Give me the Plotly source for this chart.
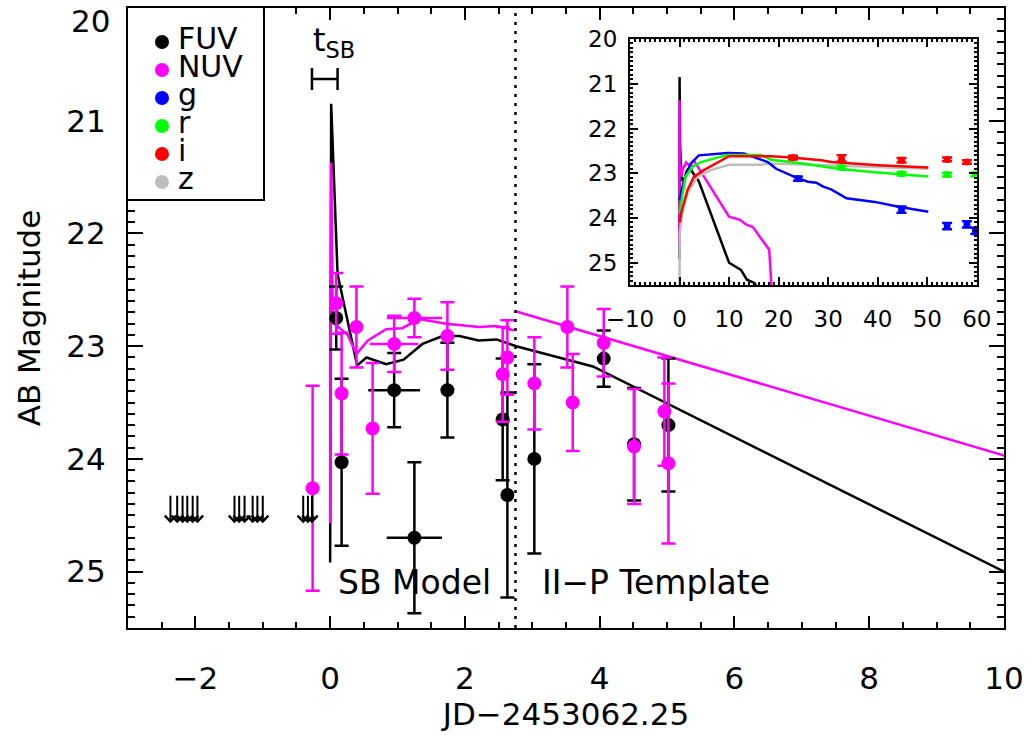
import plotly.graph_objects as go

FONT = "DejaVu Sans"
MAGENTA = "#FF00FF"

# ---------------- main panel data ----------------
fuv_x = [0.09, 0.17, 0.95, 1.25, 1.74, 2.56, 2.63, 3.03, 4.06, 4.51, 5.02]
fuv_y = [22.75, 24.03, 23.39, 24.70, 23.39, 23.65, 24.32, 24.00, 23.11, 23.87, 23.70]
fuv_err = [0.28, 0.74, 0.33, 0.67, 0.42, 0.54, 0.91, 0.84, 0.25, 0.50, 0.59]
fuv_xerr = [0, 0, 0.385, 0.41, 0, 0, 0, 0, 0, 0, 0]

nuv_x = [-0.26, 0.09, 0.17, 0.39, 0.63, 0.95, 1.25, 1.74, 2.56, 2.63, 3.03, 3.52, 3.60, 4.06, 4.51, 4.96, 5.02]
nuv_y = [24.26, 22.62, 23.42, 22.83, 23.73, 22.98, 22.75, 22.91, 23.25, 23.10, 23.33, 22.83, 23.50, 22.97, 23.89, 23.58, 24.04]
nuv_err = [0.91, 0.27, 0.54, 0.36, 0.58, 0.25, 0.17, 0.30, 0.42, 0.33, 0.41, 0.36, 0.43, 0.30, 0.51, 0.48, 0.71]
nuv_xerr = [0, 0, 0, 0, 0, 0.36, 0.41, 0, 0, 0, 0, 0, 0, 0, 0, 0, 0]

# FUV upper limits (pre-explosion)
ul_x = [-2.37, -2.27, -2.19, -2.12, -2.04, -1.97,
        -1.42, -1.35, -1.27, -1.15, -1.08, -1.00,
        -0.40, -0.33, -0.27]
ul_mag = 24.57

# models: shock-breakout model + II-P template
fuv_model_x = [0.0, 0.015, 0.11, 0.40, 0.54, 0.83, 1.09, 1.37, 1.67, 1.92, 2.20, 2.47, 2.76, 3.90,
               10.0, 12.4, 13.6, 15.1, 16.0]
fuv_model_y = [24.92, 20.85, 22.36, 23.17, 23.10, 23.16, 23.12, 22.98, 22.91, 22.91, 22.95, 22.94, 23.00, 23.18,
               25.00, 25.16, 25.38, 25.45, 25.60]
nuv_sb_x = [0.0, 0.015, 0.04, 0.26, 0.39, 0.56, 0.83, 1.07, 1.32, 1.72, 2.21, 2.46, 2.73]
nuv_sb_y = [24.57, 21.37, 22.79, 22.90, 23.07, 22.95, 22.85, 22.84, 22.76, 22.80, 22.83, 22.82, 22.86]
nuv_tmpl_x = [2.75, 10.0, 12.2, 13.5, 14.8, 18.1, 18.6]
nuv_tmpl_y = [22.69, 23.97, 24.04, 24.15, 24.20, 24.71, 25.60]

t_split = 2.75
tsb_x, tsb_y, tsb_err = -0.08, 20.63, 0.19

main_yticks = [20, 21, 22, 23, 24, 25]
main_xticks = [-2, 0, 2, 4, 6, 8, 10]
inset_xticks = [-10, 0, 10, 20, 30, 40, 50, 60]

# ---------------- inset data (optical) ----------------
g_x = [0, 0.9, 2.2, 3.9, 9.7, 13.0, 17.8, 19.5, 23.2, 25.9, 27.6, 29.0, 30.6, 33.7, 39.4, 44.2, 50.2]
g_y = [23.6, 23.16, 22.79, 22.60, 22.55, 22.56, 22.75, 22.90, 23.08, 23.19, 23.21, 23.30, 23.36, 23.56, 23.64, 23.75, 23.86]
r_x = [0, 1.2, 2.6, 4.3, 9.7, 16.4, 18.5, 25.2, 32.0, 38.7, 50.2]
r_y = [23.9, 23.08, 22.86, 22.75, 22.59, 22.59, 22.70, 22.79, 22.90, 22.97, 23.07]
i_x = [0, 0.5, 1.6, 2.9, 4.9, 10.0, 16.4, 18.5, 22.5, 28.6, 30.6, 35.4, 40.1, 50.2]
i_y = [24.1, 23.82, 23.38, 23.08, 22.93, 22.62, 22.62, 22.62, 22.65, 22.71, 22.75, 22.79, 22.82, 22.87]
z_x = [0, 0.05, 0.5, 1.6, 3.6, 6.3, 10.0, 16.4, 18.5, 50.2]
z_y = [25.6, 24.34, 23.90, 23.45, 23.08, 22.93, 22.81, 22.81, 22.78, 22.90]

gpt_x = [23.9, 44.8, 54.0, 58.0, 59.7]
gpt_y = [23.12, 23.81, 24.18, 24.14, 24.29]
gpt_e = [0.05, 0.07, 0.07, 0.07, 0.07]
rpt_x = [32.7, 44.8, 54.0, 59.7]
rpt_y = [22.87, 23.01, 23.03, 23.03]
rpt_e = [0.04, 0.04, 0.04, 0.04]
ipt_x = [22.9, 32.7, 44.8, 54.0, 58.0]
ipt_y = [22.65, 22.67, 22.71, 22.69, 22.75]
ipt_e = [0.04, 0.07, 0.05, 0.04, 0.04]

legend_labels = ["FUV", "NUV", "g", "r", "i", "z"]
legend_colors = ["black", MAGENTA, "blue", "#00FF00", "red", "#BEBEBE"]

fig = go.Figure()

# ---------- main panel ----------
fig.add_trace(go.Scatter(x=fuv_model_x, y=fuv_model_y, mode="lines",
                         line=dict(color="black", width=2.5), showlegend=False))
fig.add_trace(go.Scatter(x=nuv_sb_x, y=nuv_sb_y, mode="lines",
                         line=dict(color=MAGENTA, width=2.5), showlegend=False))
fig.add_trace(go.Scatter(x=nuv_tmpl_x, y=nuv_tmpl_y, mode="lines",
                         line=dict(color=MAGENTA, width=2.5), showlegend=False))

fig.add_trace(go.Scatter(
    x=fuv_x, y=fuv_y, mode="markers",
    marker=dict(color="black", size=14),
    error_y=dict(type="data", array=fuv_err, color="black", thickness=2.5, width=7),
    error_x=dict(type="data", array=fuv_xerr, color="black", thickness=2.5, width=0),
    showlegend=False))
fig.add_trace(go.Scatter(
    x=nuv_x, y=nuv_y, mode="markers",
    marker=dict(color=MAGENTA, size=14),
    error_y=dict(type="data", array=nuv_err, color=MAGENTA, thickness=2.5, width=7),
    error_x=dict(type="data", array=nuv_xerr, color=MAGENTA, thickness=2.5, width=0),
    showlegend=False))

# t_SB bar
fig.add_trace(go.Scatter(
    x=[tsb_x], y=[tsb_y], mode="markers", marker=dict(size=1, opacity=0),
    error_x=dict(type="data", array=[tsb_err], color="black", thickness=2.5, width=11),
    showlegend=False))

fig.add_vline(x=t_split, line=dict(color="black", width=2.5, dash="3px,6px"))

for ux in ul_x:
    fig.add_annotation(x=ux, y=ul_mag, xref="x", yref="y", text="", showarrow=True,
                       ax=0, ay=-29, arrowhead=4, arrowsize=1.1, arrowwidth=2,
                       arrowcolor="black")

fig.add_annotation(x=0.05, y=20.3, xref="x", yref="y", text="t<sub>SB</sub>",
                   showarrow=False, font=dict(family=FONT, size=32, color="black"))
fig.add_annotation(x=1.25, y=25.1, xref="x", yref="y", text="SB Model",
                   showarrow=False, font=dict(family=FONT, size=33, color="black"))
fig.add_annotation(x=4.84, y=25.1, xref="x", yref="y", text="II\u2212P Template",
                   showarrow=False, font=dict(family=FONT, size=33, color="black"))
# top y label drawn just below its tick (kept inside the figure, as in the original)
fig.add_annotation(x=0, y=main_yticks[0], xref="paper", yref="y", text=str(main_yticks[0]),
                   xanchor="right", yanchor="middle", xshift=-16, yshift=-13,
                   showarrow=False, font=dict(family=FONT, size=31, color="black"))

# ---------- inset ----------
for xs, ys, col in [(fuv_model_x, fuv_model_y, "black"),
                    (nuv_sb_x, nuv_sb_y, MAGENTA),
                    (nuv_tmpl_x, nuv_tmpl_y, MAGENTA),
                    (z_x, z_y, "#BEBEBE"),
                    (g_x, g_y, "blue"),
                    (r_x, r_y, "#00FF00"),
                    (i_x, i_y, "red")]:
    fig.add_trace(go.Scatter(x=xs, y=ys, mode="lines", line=dict(color=col, width=2.5),
                             xaxis="x2", yaxis="y2", showlegend=False))
for xs, ys, es, col in [(gpt_x, gpt_y, gpt_e, "blue"),
                        (rpt_x, rpt_y, rpt_e, "#00FF00"),
                        (ipt_x, ipt_y, ipt_e, "red")]:
    fig.add_trace(go.Scatter(x=xs, y=ys, mode="markers", marker=dict(color=col, size=7),
                             error_y=dict(type="data", array=es, color=col, thickness=2.5, width=5),
                             xaxis="x2", yaxis="y2", showlegend=False))

# ---------- legend (custom box) ----------
rows = list(range(len(legend_labels)))
fig.add_trace(go.Scatter(x=[0.252] * len(rows), y=rows, mode="markers",
                         marker=dict(color=legend_colors, size=14),
                         xaxis="x3", yaxis="y3", showlegend=False, cliponaxis=False))
fig.add_trace(go.Scatter(x=[0.37] * len(rows), y=rows, mode="text", text=legend_labels,
                         textposition="middle right",
                         textfont=dict(family=FONT, size=30, color="black"),
                         xaxis="x3", yaxis="y3", showlegend=False, cliponaxis=False))

axis_common = dict(showline=True, linecolor="black", linewidth=2, mirror="allticks",
                   ticks="inside", tickcolor="black", showgrid=False, zeroline=False,
                   automargin=False)

fig.update_layout(
    width=1034, height=736,
    margin=dict(l=128, r=30, t=8, b=108),
    paper_bgcolor="white", plot_bgcolor="white",
    font=dict(family=FONT, color="black"),
    xaxis=dict(range=[-3, 10], tickvals=main_xticks, ticklen=12, tickwidth=2,
               minor=dict(dtick=0.5, ticklen=6, tickwidth=2, ticks="inside", tickcolor="black"),
               tickfont=dict(family=FONT, size=31), ticklabelstandoff=22,
               title=dict(text="JD\u22122453062.25", font=dict(family=FONT, size=31), standoff=8),
               **axis_common),
    yaxis=dict(range=[25.5, 20], tickvals=main_yticks,
               ticktext=[""] + [str(v) for v in main_yticks[1:]], ticklen=15, tickwidth=2,
               minor=dict(dtick=0.1, ticklen=7, tickwidth=2, ticks="inside", tickcolor="black"),
               tickfont=dict(family=FONT, size=31), ticklabelstandoff=14,
               title=dict(text="AB Magnitude", font=dict(family=FONT, size=31), standoff=16),
               **axis_common),
    xaxis2=dict(domain=[0.573, 0.969], anchor="y2", range=[-10, 60],
                tickvals=inset_xticks, ticklen=8, tickwidth=2,
                minor=dict(dtick=1, ticklen=3, tickwidth=1.5, ticks="inside", tickcolor="black"),
                tickfont=dict(family=FONT, size=23), ticklabelstandoff=12,
                **axis_common),
    yaxis2=dict(domain=[0.553, 0.950], anchor="x2", range=[25.5, 20],
                tickvals=main_yticks, ticklen=8, tickwidth=2,
                minor=dict(dtick=0.1, ticklen=3, tickwidth=1.5, ticks="inside", tickcolor="black"),
                tickfont=dict(family=FONT, size=23), ticklabelstandoff=6,
                **axis_common),
    xaxis3=dict(domain=[0, 0.154], anchor="y3", range=[0, 1], showline=True, mirror=True,
                linecolor="black", linewidth=2, showticklabels=False, ticks="",
                showgrid=False, zeroline=False, automargin=False),
    yaxis3=dict(domain=[0.692, 1.0], anchor="x3", range=[5.607, -1.214], showline=True,
                mirror=True, linecolor="black", linewidth=2, showticklabels=False, ticks="",
                showgrid=False, zeroline=False, automargin=False),
)

# remove the page's default body margin so the figure fills the window exactly
fig.write_html("out.html", config={"displayModeBar": False},
               post_script="document.body.style.margin='0px';")
